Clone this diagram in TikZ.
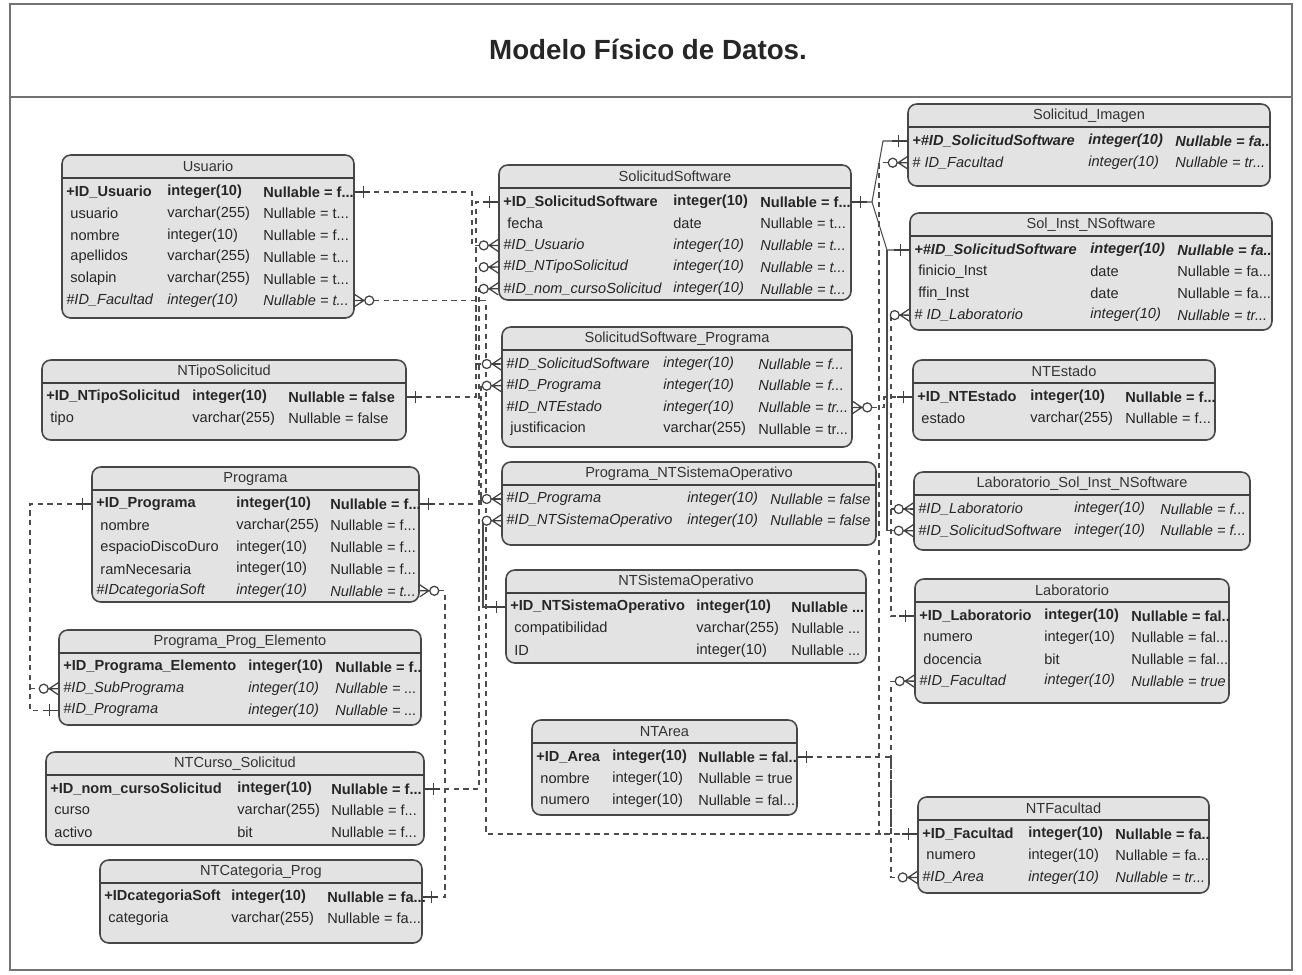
\documentclass[tikz,border=0pt]{standalone}
\usepackage{fontspec}
\setmainfont{Liberation Sans}
\usetikzlibrary{fit}

\newcommand{\ersize}{\fontsize{8.3}{10}\selectfont}
\newcommand{\tdots}{...}
% #1 name, #2 title, #3 left, #4 top, #5 right, #6 bottom, #7 type col, #8 null col, #9 rows
\newcommand{\ertable}[9]{%
  \node[tablebox,fit={(#3,#4) (#5,#6)}] (#1) {};
  \draw[tablerule] (#3,#4+23) -- (#5,#4+23);
  \node[tabletitle] (#1-title) at ({(#3+#5)/2},#4+11.5) {#2};
  \foreach \rk/\rn/\rt/\rv [count=\i] in {#9} {
    \coordinate (#1-r\i) at (#3,{#4+37+21.7*(\i-1)});
    \node[cell,\rk] (#1-n\i) at (#3+4,{#4+37+21.7*(\i-1)}) {\rn};
    \node[cell,\rk] (#1-t\i) at (#7,{#4+37+21.7*(\i-1)}) {\rt};
    \node[cell,\rk] (#1-v\i) at (#8,{#4+37+21.7*(\i-1)}) {\rv};
  }
}

\begin{document}
\begin{tikzpicture}[x=0.02cm,y=-0.02cm,
    tablebox/.style={draw=black!72,line width=0.9pt,fill=black!11,rounded corners=5pt,inner sep=0pt},
    tablerule/.style={draw=black!75,line width=0.9pt},
    tabletitle/.style={inner sep=0pt,font=\ersize,text=black!80},
    cell/.style={anchor=west,inner sep=0pt,font=\ersize,text=black!85},
    pk/.style={font=\ersize\bfseries},
    fk/.style={font=\ersize\itshape},
    pf/.style={font=\ersize\bfseries\itshape},
    nr/.style={},
    rel/.style={draw=black!70,line width=0.6pt,dash pattern=on 3pt off 2.5pt},
    idrel/.style={draw=black!70,line width=0.6pt},
    endline/.style={draw=black!75,line width=0.7pt,solid},
    many/.pic={\draw[endline] (0,-6) -- (-9,0) -- (0,6) (0,0) -- (-10,0);
               \draw[endline,fill=white] (-14.5,0) circle (4.5);},
    one/.pic={\draw[endline] (0,0) -- (-15,0) (-9,-6) -- (-9,6);}]
  \useasboundingbox (0,0) rectangle (1302,974);

  % frame and heading
  \draw[black!55,line width=0.6pt] (10,4) rectangle (1292,970);
  \draw[black!55,line width=0.6pt] (10,97) -- (1292,97);
  \node[font=\fontsize{15.8}{18}\selectfont\bfseries,text=black!85] (heading) at (648,49) {Modelo Físico de Datos.};

  % tables
  \ertable{usu}{Usuario}{62}{155}{354}{318}{167}{263}{%
    pk/+ID\_Usuario/integer(10)/Nullable = f\tdots,
    nr/~usuario/varchar(255)/Nullable = t\tdots,
    nr/~nombre/integer(10)/Nullable = f\tdots,
    nr/~apellidos/varchar(255)/Nullable = t\tdots,
    nr/~solapin/varchar(255)/Nullable = t\tdots,
    fk/\#ID\_Facultad/integer(10)/Nullable = t\tdots}
  \ertable{sol}{SolicitudSoftware}{499}{165}{851}{300}{673}{760}{%
    pk/+ID\_SolicitudSoftware/integer(10)/Nullable = f\tdots,
    nr/~fecha/date/Nullable = t\tdots,
    fk/\#ID\_Usuario/integer(10)/Nullable = t\tdots,
    fk/\#ID\_NTipoSolicitud/integer(10)/Nullable = t\tdots,
    fk/\#ID\_nom\_cursoSolicitud/integer(10)/Nullable = t\tdots}
  \ertable{img}{Solicitud\_Imagen}{908}{104}{1270}{186}{1088}{1175}{%
    pf/+\#ID\_SolicitudSoftware/integer(10)/Nullable = fa..,
    fk/\#~ID\_Facultad/integer(10)/Nullable = tr\tdots}
  \ertable{sin}{Sol\_Inst\_NSoftware}{910}{213}{1272}{330}{1090}{1177}{%
    pf/+\#ID\_SolicitudSoftware/integer(10)/Nullable = fa..,
    nr/~finicio\_Inst/date/Nullable = fa\tdots,
    nr/~ffin\_Inst/date/Nullable = fa\tdots,
    fk/\#~ID\_Laboratorio/integer(10)/Nullable = tr\tdots}
  \ertable{nts}{NTipoSolicitud}{42}{360}{406}{440}{192}{288}{%
    pk/+ID\_NTipoSolicitud/integer(10)/Nullable = false,
    nr/~tipo/varchar(255)/Nullable = false}
  \ertable{ssp}{SolicitudSoftware\_Programa}{502}{327}{852}{447}{663}{758}{%
    fk/\#ID\_SolicitudSoftware/integer(10)/Nullable = f\tdots,
    fk/\#ID\_Programa/integer(10)/Nullable = f\tdots,
    fk/\#ID\_NTEstado/integer(10)/Nullable = tr\tdots,
    nr/~justificacion/varchar(255)/Nullable = tr\tdots}
  \ertable{est}{NTEstado}{913}{360}{1215}{440}{1030}{1125}{%
    pk/+ID\_NTEstado/integer(10)/Nullable = f\tdots,
    nr/~estado/varchar(255)/Nullable = f\tdots}
  \ertable{pro}{Programa}{92}{467}{419}{602}{236}{330}{%
    pk/+ID\_Programa/integer(10)/Nullable = f\tdots,
    nr/~nombre/varchar(255)/Nullable = f\tdots,
    nr/~espacioDiscoDuro/integer(10)/Nullable = f\tdots,
    nr/~ramNecesaria/integer(10)/Nullable = f\tdots,
    fk/\#IDcategoriaSoft/integer(10)/Nullable = t\tdots}
  \ertable{pso}{Programa\_NTSistemaOperativo}{502}{462}{876}{545}{687}{770}{%
    fk/\#ID\_Programa/integer(10)/Nullable = false,
    fk/\#ID\_NTSistemaOperativo/integer(10)/Nullable = false}
  \ertable{lsi}{Laboratorio\_Sol\_Inst\_NSoftware}{914}{472}{1250}{550}{1074}{1160}{%
    fk/\#ID\_Laboratorio/integer(10)/Nullable = f\tdots,
    fk/\#ID\_SolicitudSoftware/integer(10)/Nullable = f\tdots}
  \ertable{nso}{NTSistemaOperativo}{506}{570}{866}{663}{696}{791}{%
    pk/+ID\_NTSistemaOperativo/integer(10)/Nullable \tdots,
    nr/~compatibilidad/varchar(255)/Nullable \tdots,
    nr/~ID/integer(10)/Nullable \tdots}
  \ertable{lab}{Laboratorio}{915}{579}{1229}{703}{1044}{1131}{%
    pk/+ID\_Laboratorio/integer(10)/Nullable = fal..,
    nr/~numero/integer(10)/Nullable = fal\tdots,
    nr/~docencia/bit/Nullable = fal\tdots,
    fk/\#ID\_Facultad/integer(10)/Nullable = true}
  \ertable{ppe}{Programa\_Prog\_Elemento}{59}{630}{421}{725}{248}{335}{%
    pk/+ID\_Programa\_Elemento/integer(10)/Nullable = f..,
    fk/\#ID\_SubPrograma/integer(10)/Nullable = \tdots,
    fk/\#ID\_Programa/integer(10)/Nullable = \tdots}
  \ertable{are}{NTArea}{532}{720}{797}{815}{612}{698}{%
    pk/+ID\_Area/integer(10)/Nullable = fal..,
    nr/~nombre/integer(10)/Nullable = true,
    nr/~numero/integer(10)/Nullable = fal\tdots}
  \ertable{ncs}{NTCurso\_Solicitud}{46}{752}{424}{845}{237}{331}{%
    pk/+ID\_nom\_cursoSolicitud/integer(10)/Nullable = f\tdots,
    nr/~curso/varchar(255)/Nullable = f\tdots,
    nr/~activo/bit/Nullable = f\tdots}
  \ertable{ncp}{NTCategoria\_Prog}{100}{860}{422}{943}{231}{327}{%
    pk/+IDcategoriaSoft/integer(10)/Nullable = fa\tdots,
    nr/~categoria/varchar(255)/Nullable = fa\tdots}
  \ertable{fac}{NTFacultad}{918}{797}{1209}{893}{1028}{1115}{%
    pk/+ID\_Facultad/integer(10)/Nullable = fa..,
    nr/~numero/integer(10)/Nullable = fa\tdots,
    fk/\#ID\_Area/integer(10)/Nullable = tr\tdots}

  % channels
  \coordinate (xe) at (30,0);
  \coordinate (xk) at (445,0);
  \coordinate (xu) at (472,0);
  \coordinate (xs) at (476,0);
  \coordinate (xc) at (479,0);
  \coordinate (xp) at (481,0);
  \coordinate (xo) at (483,0);
  \coordinate (xf) at (486,0);
  \coordinate (xa) at (872,0);
  \coordinate (xr) at (879,0);
  \coordinate (xi) at (883,0);
  \coordinate (xt) at (884,0);
  \coordinate (xn) at (887,0);
  \coordinate (xl) at (891,0);

  % left side relations
  \draw[rel] (usu.east|-usu-r1) -- (xu|-usu-r1) -- (xu|-sol-r3) -- (sol.west|-sol-r3);
  \draw[rel] (nts.east|-nts-r1) -- (xs|-nts-r1) -- (xs|-sol-r4) -- (sol.west|-sol-r4);
  \draw[rel] (ncs.east|-ncs-r1) -- (xc|-ncs-r1) -- (xc|-sol-r5) -- (sol.west|-sol-r5);
  \draw[rel] (sol.west|-sol-r1) -- (xs|-sol-r1) -- (xs|-ssp-r1) -- (ssp.west|-ssp-r1);
  \draw[rel] (pro.east|-pro-r1) -- (xp|-pro-r1) -- (xp|-ssp-r2) -- (ssp.west|-ssp-r2);
  \draw[rel] (xp|-pro-r1) -- (xp|-pso-r1) -- (pso.west|-pso-r1);
  \draw[idrel] (nso.west|-nso-r1) -- (xo|-nso-r1) -- (xo|-pso-r2) -- (pso.west|-pso-r2);
  \draw[rel] (usu.east|-usu-r6) -- (xf|-usu-r6) -- (xf|-fac-r1) -- (fac.west|-fac-r1);
  \draw[rel] (pro.east|-pro-r5) -- (xk|-pro-r5) -- (xk|-ncp-r1) -- (ncp.east|-ncp-r1);
  \draw[rel] (pro.west|-pro-r1) -- (xe|-pro-r1) -- (xe|-ppe-r3) -- (ppe.west|-ppe-r3);
  \draw[rel] (xe|-ppe-r2) -- (ppe.west|-ppe-r2);

  % right side relations
  \draw[idrel] (sol.east|-sol-r1) -- (xa|-sol-r1) -- (xi|-img-r1) -- (img.west|-img-r1);
  \draw[idrel] (xa|-sol-r1) -- (xn|-sin-r1) -- (sin.west|-sin-r1);
  \draw[idrel] (xn|-sin-r1) -- (xn|-lsi-r2) -- (lsi.west|-lsi-r2);
  \draw[rel] (img.west|-img-r2) -- (xr|-img-r2) -- (xr|-fac-r1) -- (fac.west|-fac-r1);
  \draw[rel] (sin.west|-sin-r4) -- (xl|-sin-r4) -- (xl|-lab-r1) -- (lab.west|-lab-r1);
  \draw[rel] (xl|-lsi-r1) -- (lsi.west|-lsi-r1);
  \draw[rel] (ssp.east|-ssp-r3) -- (xt|-ssp-r3) -- (xt|-est-r1) -- (est.west|-est-r1);
  \draw[rel] (lab.west|-lab-r4) -- (xl|-lab-r4) -- (xl|-fac-r1);
  \draw[rel] (are.east|-are-r1) -- (xl|-are-r1) -- (xl|-fac-r3) -- (fac.west|-fac-r3);

  % end marks
  \pic[rotate=180] at (usu.east|-usu-r1) {one};
  \pic at (sol.west|-sol-r3) {many};
  \pic[rotate=180] at (nts.east|-nts-r1) {one};
  \pic at (sol.west|-sol-r4) {many};
  \pic[rotate=180] at (ncs.east|-ncs-r1) {one};
  \pic at (sol.west|-sol-r5) {many};
  \pic at (sol.west|-sol-r1) {one};
  \pic at (ssp.west|-ssp-r1) {many};
  \pic[rotate=180] at (pro.east|-pro-r1) {one};
  \pic at (ssp.west|-ssp-r2) {many};
  \pic at (pso.west|-pso-r1) {many};
  \pic at (nso.west|-nso-r1) {one};
  \pic at (pso.west|-pso-r2) {many};
  \pic[rotate=180] at (usu.east|-usu-r6) {many};
  \pic at (fac.west|-fac-r1) {one};
  \pic[rotate=180] at (pro.east|-pro-r5) {many};
  \pic[rotate=180] at (ncp.east|-ncp-r1) {one};
  \pic at (pro.west|-pro-r1) {one};
  \pic at (ppe.west|-ppe-r2) {many};
  \pic at (ppe.west|-ppe-r3) {one};
  \pic[rotate=180] at (sol.east|-sol-r1) {one};
  \pic at (img.west|-img-r1) {one};
  \pic at (sin.west|-sin-r1) {one};
  \pic at (lsi.west|-lsi-r2) {many};
  \pic at (img.west|-img-r2) {many};
  \pic at (sin.west|-sin-r4) {many};
  \pic at (lab.west|-lab-r1) {one};
  \pic at (lsi.west|-lsi-r1) {many};
  \pic[rotate=180] at (ssp.east|-ssp-r3) {many};
  \pic at (est.west|-est-r1) {one};
  \pic at (lab.west|-lab-r4) {many};
  \pic[rotate=180] at (are.east|-are-r1) {one};
  \pic at (fac.west|-fac-r3) {many};
\end{tikzpicture}
\end{document}
